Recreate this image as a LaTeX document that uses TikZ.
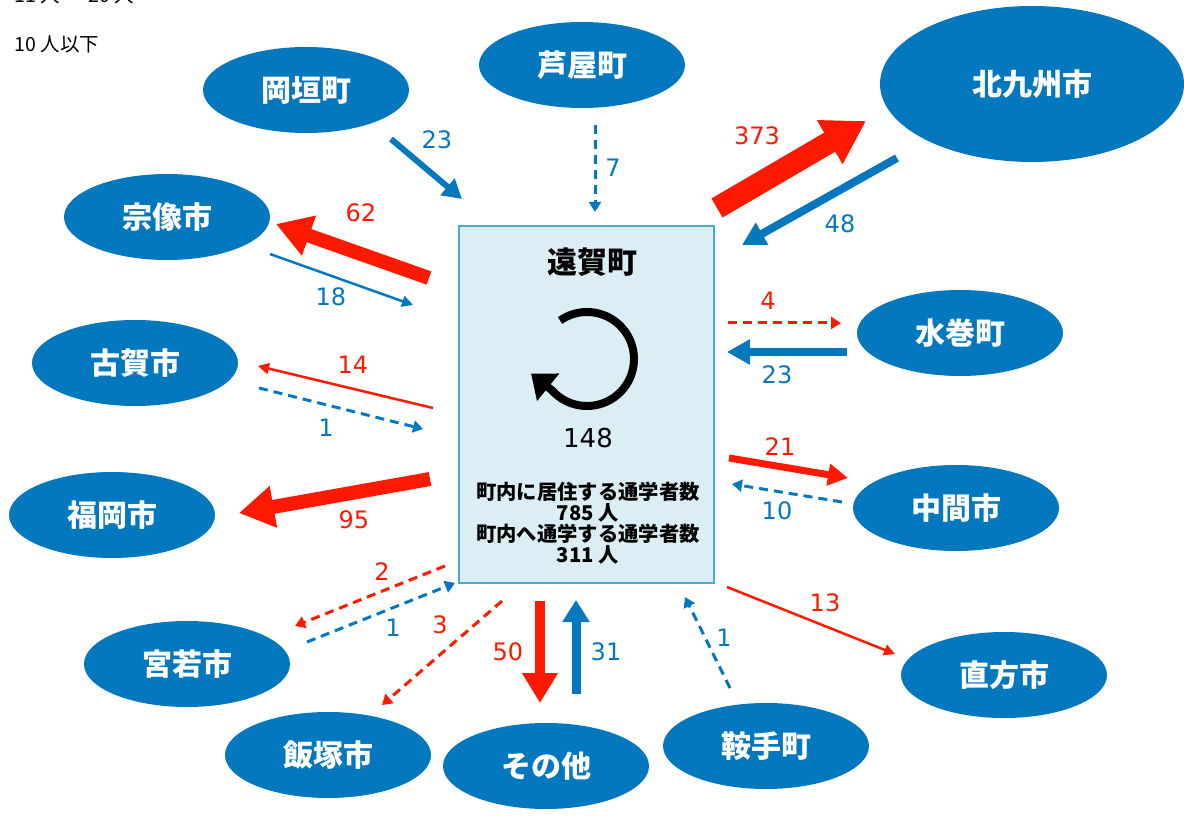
\documentclass[tikz,border=0pt]{standalone}
\usepackage{fontspec}
\newfontfamily\jp{Noto Sans CJK JP}
\newfontfamily\numf{DejaVu Sans}
\usetikzlibrary{shapes.geometric,arrows.meta}
\definecolor{oblue}{RGB}{4,120,190}
\definecolor{ored}{RGB}{255,25,0}
\definecolor{boxfill}{RGB}{218,238,243}
\definecolor{boxline}{RGB}{75,172,198}
\tikzset{
  place/.style={ellipse,fill=oblue,minimum width=206pt,minimum height=86pt,text=white,font=\jp\bfseries\fontsize{30}{30}\selectfont},
  big place/.style={place,minimum width=304pt,minimum height=156pt},
  num/.style={font=\numf\fontsize{24}{24}\selectfont},
  legend/.style={anchor=west,font=\jp\fontsize{19.5}{19.5}\selectfont},
  blockflow/.style n args={3}{line width=#1,-{Triangle[width=#2,length=#3]}},
  thinflow/.style={line width=2.5pt,-{Triangle[width=11pt,length=11pt]}},
  dashflow/.style={line width=3pt,dash pattern=on 9pt off 6pt,-{Triangle[width=12pt,length=10pt]}},
}
\begin{document}
\begin{tikzpicture}[x=1pt,y=-1pt]
    \useasboundingbox (0,0) rectangle (1184,818);
    % legend ================================================
    \node[legend] (legmid) at (11,-5) {11 人 ～ 20 人};
    \node[legend] (leglow) at (11,44) {10 人以下};
    % places ================================================
    \node[place]     (okagaki)  at (306,90)   {岡垣町};
    \node[place]     (ashiya)   at (582,65)   {芦屋町};
    \node[big place] (kitakyu)  at (1032,84)  {北九州市};
    \node[place]     (munakata) at (167,217)  {宗像市};
    \node[place]     (koga)     at (135,363)  {古賀市};
    \node[place]     (fukuoka)  at (112,515)  {福岡市};
    \node[place]     (mizumaki) at (960,333)  {水巻町};
    \node[place]     (nakama)   at (956,508)  {中間市};
    \node[place]     (nogata)   at (1004,675) {直方市};
    \node[place]     (miyawaka) at (187,664)  {宮若市};
    \node[place]     (iizuka)   at (328,755)  {飯塚市};
    \node[place]     (sonota)   at (546,766)  {その他};
    \node[place]     (kurate)   at (766,746)  {鞍手町};
    % Onga ==================================================
    \node[draw=boxline,fill=boxfill,line width=1.5pt,minimum width=255pt,minimum height=357pt] (onga) at (586.5,404.5) {};
    \node[font=\jp\bfseries\fontsize{30}{30}\selectfont] (title) at (592,262) {遠賀町};
    \coordinate (loop) at (587,359);
    \draw[line width=8pt,-{Triangle[width=34pt,length=22pt]}] ([shift={(-125:47)}]loop) arc[start angle=-125,end angle=138,radius=47] -- ++(-21,-17);
    \node[font=\numf\fontsize{26}{26}\selectfont] (inner) at (588,438) {148};
    \node[align=center,font=\jp\bfseries\fontsize{20.3}{21}\selectfont] (stats) at (588,523) {町内に居住する通学者数\\785 人\\町内へ通学する通学者数\\311 人};
    % flows, top ============================================
    \coordinate (oka-s) at (391,139); \coordinate (oka-e) at (462,199);
    \draw[oblue,blockflow={6pt}{21pt}{19pt}] (oka-s) -- (oka-e);
    \node[num,oblue] (oka-n) at (437,140) {23};
    \coordinate (ash-s) at (595,125); \coordinate (ash-e) at (595,212);
    \draw[oblue,dashflow] (ash-s) -- (ash-e);
    \node[num,oblue] (ash-n) at (613,168) {7};
    \coordinate (kit-s) at (717,208); \coordinate (kit-e) at (866,121);
    \draw[ored,blockflow={22pt}{48pt}{42pt}] (kit-s) -- (kit-e);
    \node[num,ored] (kit-n) at (757,136) {373};
    \coordinate (kit-r) at (897,158); \coordinate (kit-t) at (742,245);
    \draw[oblue,blockflow={8pt}{24pt}{23pt}] (kit-r) -- (kit-t);
    \node[num,oblue] (kit-m) at (840,224) {48};
    % flows, left ===========================================
    \coordinate (mun-s) at (429,278); \coordinate (mun-e) at (276,224);
    \draw[ored,blockflow={14pt}{40pt}{35pt}] (mun-s) -- (mun-e);
    \node[num,ored] (mun-n) at (361,213) {62};
    \coordinate (mun-r) at (270,254); \coordinate (mun-t) at (413,305);
    \draw[oblue,thinflow] (mun-r) -- (mun-t);
    \node[num,oblue] (mun-m) at (331,297) {18};
    \coordinate (kog-s) at (433,408); \coordinate (kog-e) at (258,366);
    \draw[ored,thinflow] (kog-s) -- (kog-e);
    \node[num,ored] (kog-n) at (353,365) {14};
    \coordinate (kog-r) at (259,388); \coordinate (kog-t) at (423,429);
    \draw[oblue,dashflow] (kog-r) -- (kog-t);
    \node[num,oblue] (kog-m) at (326,428) {1};
    \coordinate (fuk-s) at (430,479); \coordinate (fuk-e) at (239,513);
    \draw[ored,blockflow={14pt}{40pt}{35pt}] (fuk-s) -- (fuk-e);
    \node[num,ored] (fuk-n) at (354,520) {95};
    % flows, right ==========================================
    \coordinate (miz-s) at (728,323); \coordinate (miz-e) at (841,323);
    \draw[ored,dashflow] (miz-s) -- (miz-e);
    \node[num,ored] (miz-n) at (768,301) {4};
    \coordinate (miz-r) at (847,352); \coordinate (miz-t) at (727,352);
    \draw[oblue,blockflow={8pt}{24pt}{23pt}] (miz-r) -- (miz-t);
    \node[num,oblue] (miz-m) at (777,375) {23};
    \coordinate (nak-s) at (729,458); \coordinate (nak-e) at (848,478);
    \draw[ored,blockflow={7pt}{21pt}{20pt}] (nak-s) -- (nak-e);
    \node[num,ored] (nak-n) at (780,447) {21};
    \coordinate (nak-r) at (842,502); \coordinate (nak-t) at (732,484);
    \draw[oblue,dashflow] (nak-r) -- (nak-t);
    \node[num,oblue] (nak-m) at (777,511) {10};
    \coordinate (nog-s) at (727,587); \coordinate (nog-e) at (895,654);
    \draw[ored,thinflow] (nog-s) -- (nog-e);
    \node[num,ored] (nog-n) at (825,603) {13};
    % flows, bottom =========================================
    \coordinate (miy-s) at (445,566); \coordinate (miy-e) at (295,626);
    \draw[ored,dashflow] (miy-s) -- (miy-e);
    \node[num,ored] (miy-n) at (382,572) {2};
    \coordinate (miy-r) at (307,642); \coordinate (miy-t) at (455,583);
    \draw[oblue,dashflow] (miy-r) -- (miy-t);
    \node[num,oblue] (miy-m) at (393,628) {1};
    \coordinate (iiz-s) at (502,601); \coordinate (iiz-e) at (382,705);
    \draw[ored,dashflow] (iiz-s) -- (iiz-e);
    \node[num,ored] (iiz-n) at (440,625) {3};
    \coordinate (son-s) at (540,601); \coordinate (son-e) at (540,703);
    \draw[ored,blockflow={10pt}{34pt}{30pt}] (son-s) -- (son-e);
    \node[num,ored] (son-n) at (508,652) {50};
    \coordinate (son-r) at (576,694); \coordinate (son-t) at (576,600);
    \draw[oblue,blockflow={9pt}{26pt}{22pt}] (son-r) -- (son-t);
    \node[num,oblue] (son-m) at (606,652) {31};
    \coordinate (kur-r) at (730,688); \coordinate (kur-t) at (685,597);
    \draw[oblue,dashflow] (kur-r) -- (kur-t);
    \node[num,oblue] (kur-m) at (724,638) {1};
\end{tikzpicture}
\end{document}
